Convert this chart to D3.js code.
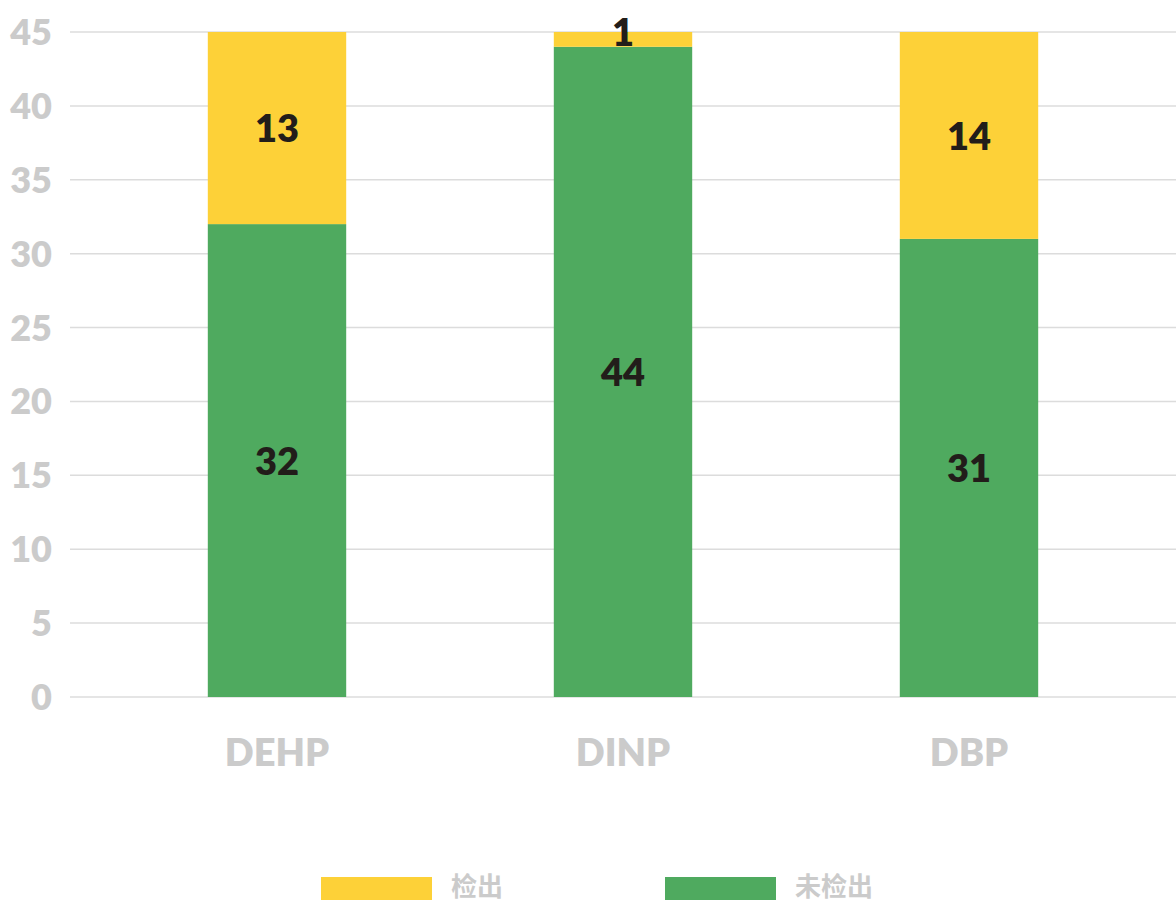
<!DOCTYPE html>
<html><head><meta charset="utf-8">
<script src="https://cdn.jsdelivr.net/npm/d3@7"></script>
<style>body{margin:0;background:#fff;}svg{display:block;}</style>
</head><body>
<svg id="c" width="1176" height="902"></svg>
<script>
const categories = ["DEHP", "DINP", "DBP"];
const detected = [13, 1, 14];
const notDetected = [32, 44, 31];
const yTicks = [0, 5, 10, 15, 20, 25, 30, 35, 40, 45];
const seriesNames = ["检出", "未检出"];
const colors = {"检出": "#fdd138", "未检出": "#4faa5f"};

const svg = d3.select("#c");
const fontFam = "Lato, 'Noto Sans CJK SC', sans-serif";
const x = d3.scaleBand().domain(categories).range([104, 1142]).paddingInner(0.6).paddingOuter(0.3);
const y = d3.scaleLinear().domain([0, 45]).range([697, 32]);

// grid
svg.append("g").selectAll("line").data(yTicks).join("line")
  .attr("x1", 70).attr("x2", 1176)
  .attr("y1", d => y(d)).attr("y2", d => y(d))
  .attr("stroke", "#dcdcdc").attr("stroke-width", 1.5);

// y labels
svg.append("g").selectAll("text").data(yTicks).join("text")
  .attr("x", 52).attr("y", d => y(d)).attr("dy", "0.36em")
  .attr("text-anchor", "end").attr("font-family", fontFam).attr("font-weight", 800)
  .attr("font-size", 36).attr("fill", "#cbcbcb").text(d => d);

const data = categories.map((c, i) => ({cat: c, "未检出": notDetected[i], "检出": detected[i]}));
const stack = d3.stack().keys(["未检出", "检出"])(data);

const layers = svg.append("g").selectAll("g").data(stack).join("g")
  .attr("fill", d => colors[d.key]);
layers.selectAll("rect").data(d => d).join("rect")
  .attr("x", d => x(d.data.cat)).attr("width", x.bandwidth())
  .attr("y", d => y(d[1])).attr("height", d => y(d[0]) - y(d[1]));

// value labels
const labG = svg.append("g");
stack.forEach(layer => {
  layer.forEach(d => {
    const v = d[1] - d[0];
    let cy = (y(d[0]) + y(d[1])) / 2;
    if (v < 3) cy = y(d[1]);
    labG.append("text")
      .attr("x", x(d.data.cat) + x.bandwidth() / 2).attr("y", cy).attr("dy", "0.38em")
      .attr("text-anchor", "middle").attr("font-family", fontFam).attr("font-weight", 800)
      .attr("font-size", 38).attr("fill", "#221d1a").text(v);
  });
});

// x labels
svg.append("g").selectAll("text").data(categories).join("text")
  .attr("x", d => x(d) + x.bandwidth() / 2).attr("y", 766)
  .attr("text-anchor", "middle").attr("font-family", fontFam).attr("font-weight", 800)
  .attr("font-size", 38).attr("fill", "#cbcbcb").text(d => d);

// legend
const leg = svg.append("g");
seriesNames.forEach((s, i) => {
  const lx = 321 + i * 344;
  leg.append("rect").attr("x", lx).attr("y", 877).attr("width", 111).attr("height", 23).attr("fill", colors[s]);
  leg.append("text").attr("x", lx + 130).attr("y", 887).attr("dy", "0.36em")
    .attr("font-family", "'Noto Sans CJK SC', sans-serif").attr("font-weight", 700)
    .attr("font-size", 26).attr("fill", "#cbcbcb").text(s);
});
</script>
</body></html>
